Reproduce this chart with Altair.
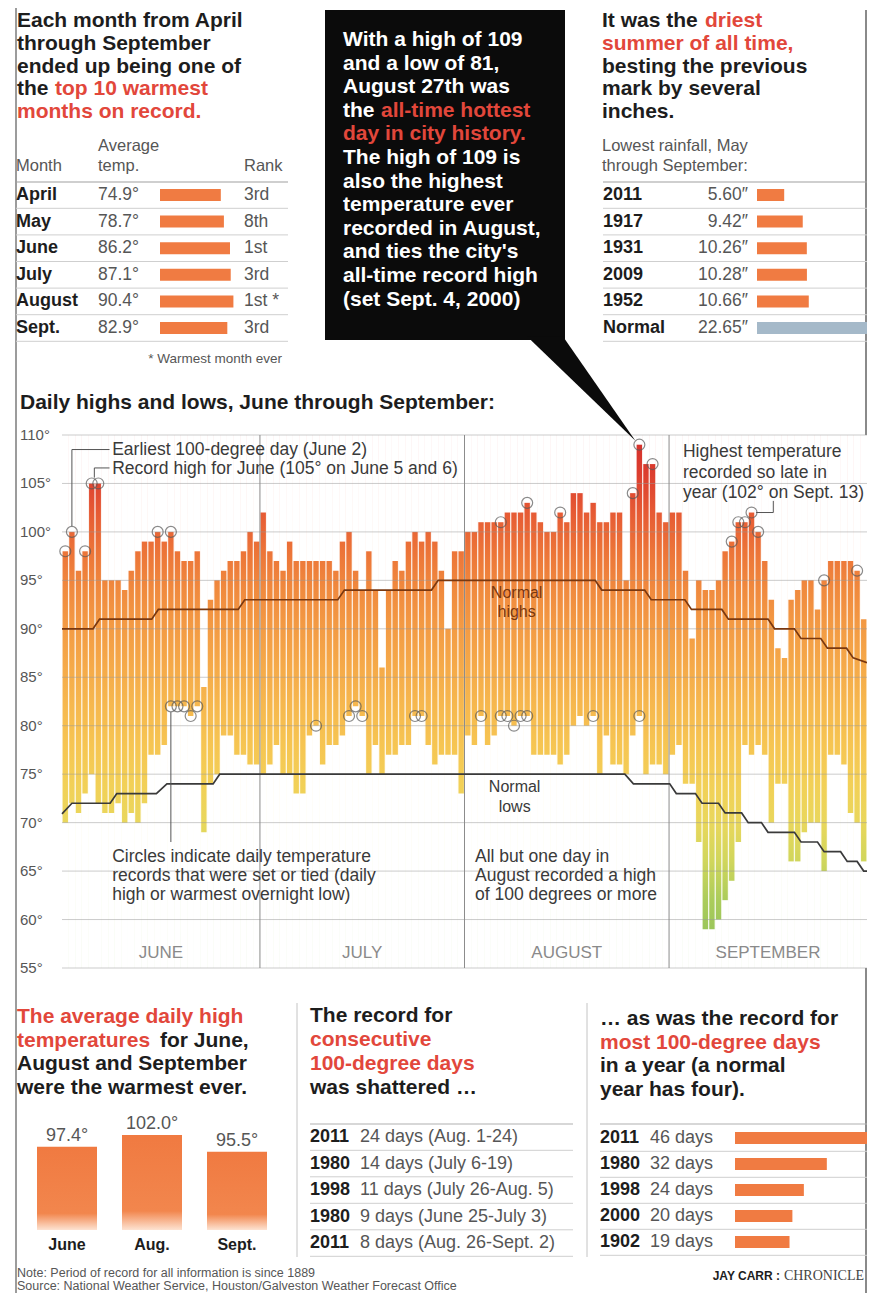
import altair as alt
import pandas as pd

# ------------------------------------------------------------------ values
MONTHS = ["April", "May", "June", "July", "August", "Sept."]
MONTH_AVG_TEMP = [74.9, 78.7, 86.2, 87.1, 90.4, 82.9]
MONTH_RANK = ["3rd", "8th", "1st", "3rd", "1st *", "3rd"]

RAIN_YEARS = ["2011", "1917", "1931", "2009", "1952", "Normal"]
RAIN_INCHES = [5.60, 9.42, 10.26, 10.28, 10.66, 22.65]

HIGH_JUNE = [98, 100, 96, 98, 105, 105, 95, 95, 95, 94, 96, 98, 99, 99, 100,
             99, 100, 98, 97, 97, 98, 84, 93, 95, 96, 97, 97, 98, 100, 99]
HIGH_JULY = [102, 98, 97, 96, 99, 97, 97, 97, 97, 97, 97, 96, 99, 100, 96, 94,
             98, 94, 86, 94, 97, 96, 99, 100, 99, 100, 99, 96, 90, 98, 98]
HIGH_AUG = [100, 100, 101, 101, 101, 101, 102, 102, 102, 103, 102, 101, 100, 100,
            102, 101, 104, 104, 102, 103, 101, 101, 102, 102, 95, 104, 109, 107,
            107, 102, 101]
HIGH_SEPT = [102, 102, 96, 89, 95, 94, 94, 95, 98, 99, 101, 101, 102, 100, 97,
             93, 88, 87, 93, 94, 95, 95, 92, 95, 97, 97, 97, 97, 96, 91]
LOW_JUNE = [70, 72, 71, 73, 75, 72, 71, 71, 72, 70, 71, 70, 72, 77, 77, 78, 82,
            82, 82, 81, 82, 69, 74, 75, 79, 79, 77, 77, 76, 76]
LOW_JULY = [75, 76, 78, 75, 75, 73, 73, 79, 80, 76, 78, 78, 79, 81, 82, 81, 75,
            78, 75, 77, 77, 78, 78, 81, 81, 78, 76, 77, 77, 77, 73]
LOW_AUG = [79, 78, 81, 78, 79, 81, 81, 80, 81, 81, 77, 77, 77, 77, 76, 77, 80,
           81, 80, 81, 75, 79, 76, 76, 75, 79, 81, 75, 76, 76, 75]
LOW_SEPT = [77, 78, 74, 74, 68, 59, 59, 60, 62, 64, 68, 78, 77, 78, 77, 70, 74,
            74, 66, 66, 69, 70, 70, 65, 77, 77, 76, 71, 70, 66]

RECORD_HIGH_DAYS = [0, 1, 3, 4, 5, 14, 16, 66, 70, 75, 86, 87, 89,
                    101, 102, 103, 104, 105, 115, 120]
RECORD_LOW_DAYS = [16, 17, 18, 19, 20, 38, 43, 44, 45, 53, 54, 63,
                   66, 67, 68, 69, 70, 80, 87]

NORMAL_HIGH_DAY = [0, 4.7, 5.7, 13.6, 14.6, 26.7, 27.7, 41.8, 42.8, 56, 57, 80.8,
                   81.8, 88.3, 89.3, 94.4, 95.4, 100, 101, 107, 108, 111, 112,
                   115, 116, 118.9, 119.9, 122]
NORMAL_HIGH_TEMP = [90, 90, 91, 91, 92, 92, 93, 93, 94, 94, 95, 95, 94, 94, 93,
                    93, 92, 92, 91, 91, 90, 90, 89, 89, 88, 88, 87, 86.5]
NORMAL_LOW_DAY = [0, 1.5, 7.3, 8.3, 14.3, 15.9, 22.9, 23.9, 85.3, 86.6, 92.1, 93.1,
                  96, 97, 99.5, 100.5, 103, 104, 106, 107, 111, 112, 114.5, 115.5,
                  118, 119, 120.5, 121.5, 122]
NORMAL_LOW_TEMP = [70.9, 72, 72, 73, 73, 74, 74, 75, 75, 74, 74, 73, 73, 72, 72,
                   71, 71, 70, 70, 69, 69, 68, 68, 67, 67, 66, 66, 65, 65]

CHART_MONTHS = ["JUNE", "JULY", "AUGUST", "SEPTEMBER"]
MONTH_LENGTHS = [30, 31, 31, 30]
Y_TICKS = [110, 105, 100, 95, 90, 85, 80, 75, 70, 65, 60, 55]

AVG_HIGH_MONTHS = ["June", "Aug.", "Sept."]
AVG_HIGH_VALUES = [97.4, 102.0, 95.5]

STREAK_YEARS = ["2011", "1980", "1998", "1980", "2011"]
STREAK_TEXT = ["24 days (Aug. 1-24)", "14 days (July 6-19)",
               "11 days (July 26-Aug. 5)", "9 days (June 25-July 3)",
               "8 days (Aug. 26-Sept. 2)"]

DAYS100_YEARS = ["2011", "1980", "1998", "2000", "1902"]
DAYS100_COUNT = [46, 32, 24, 20, 19]

# ------------------------------------------------------------------ styles
W, H = 859, 1285
OX = OY = 8
SANS = "Liberation Sans"
SERIF = "Liberation Serif"
RED = "#e2473b"
ORANGE = "#f07b42"
BLUEGREY = "#a5b9c9"
INK = "#1d1d1d"
GREY = "#565656"
LIGHT = "#cfcfcf"

IDX = alt.Scale(domain=[0, W], range=[0, W], nice=False, zero=False)
IDY = alt.Scale(domain=[0, H], range=[0, H], nice=False, zero=False)


def para(x, y0, step, spec):
    rows = []
    for i, segments in enumerate(spec):
        for dx, t, c in segments:
            rows.append((x + dx, y0 + i * step, t, c))
    return rows


def texts(rows, size, weight="normal", align="left", font=SANS, style="normal"):
    df = pd.DataFrame(rows, columns=["x", "y", "t", "c"])
    df["x"] = df["x"] - OX
    df["y"] = df["y"] - OY
    return alt.Chart(df).mark_text(
        align=align, baseline="middle", font=font, fontSize=size,
        fontWeight=weight, fontStyle=style
    ).encode(
        x=alt.X("x:Q", scale=IDX, axis=None),
        y=alt.Y("y:Q", scale=IDY, axis=None),
        text=alt.Text("t:N"),
        color=alt.Color("c:N", scale=None),
    )


def segs(rows, color, width):
    df = pd.DataFrame(rows, columns=["x", "y", "x2", "y2"])
    df["x"] = df["x"] - OX
    df["x2"] = df["x2"] - OX
    df["y"] = df["y"] - OY
    df["y2"] = df["y2"] - OY
    return alt.Chart(df).mark_rule(color=color, strokeWidth=width).encode(
        x=alt.X("x:Q", scale=IDX, axis=None), x2="x2:Q",
        y=alt.Y("y:Q", scale=IDY, axis=None), y2="y2:Q")


def box(x0, y0, x1, y1, color):
    df = pd.DataFrame({"x": [x0 - OX], "x2": [x1 - OX], "y": [y0 - OY], "y2": [y1 - OY]})
    return alt.Chart(df).mark_rect(color=color).encode(
        x=alt.X("x:Q", scale=IDX, axis=None), x2="x2:Q",
        y=alt.Y("y:Q", scale=IDY, axis=None), y2="y2:Q")


layers = []

# frame
layers.append(segs([(16, 8, 16, 1300)], "#9c9c9c", 2))
layers.append(segs([(866, 10, 866, 1300)], "#8a8a8a", 2))

# ------------------------------------------------------------------ top left
TL_TITLE = [
    [(0, "Each month from April", INK)],
    [(0, "through September", INK)],
    [(0, "ended up being one of", INK)],
    [(0, "the", INK), (38, "top 10 warmest", RED)],
    [(0, "months on record.", RED)],
]
layers.append(texts(para(17, 21, 22.8, TL_TITLE), 21, "bold"))
layers.append(texts([(98, 146, "Average", GREY), (16, 166, "Month", GREY),
                     (98, 166, "temp.", GREY), (244, 166, "Rank", GREY)], 16.5))
layers.append(segs([(16, 182, 288, 182)], "#a0a0a0", 1.2))

ROW_TL = alt.Scale(domain=[0, len(MONTHS) - 1], range=[195 - OY, 328 - OY], nice=False, zero=False)
df_m = pd.DataFrame({"row": list(range(len(MONTHS))), "month": MONTHS,
                     "temp": MONTH_AVG_TEMP, "rank": MONTH_RANK})
df_m["lab"] = [f"{v:.1f}°" for v in MONTH_AVG_TEMP]
df_m["zero"] = 0.0
TEMP_X = alt.Scale(domain=[0, 100], range=[160 - OX, 160 - OX + 81.2], nice=False, zero=False)
ym = alt.Y("row:Q", scale=ROW_TL, axis=None)
bm = alt.Chart(df_m)
layers += [
    bm.mark_rule(color=LIGHT, strokeWidth=1, yOffset=13.3).encode(
        x=alt.value(16 - OX), x2=alt.value(288 - OX), y=ym),
    bm.mark_rule(color=ORANGE, strokeWidth=12).encode(
        x=alt.X("zero:Q", scale=TEMP_X, axis=None), x2="temp:Q", y=ym),
    bm.mark_text(align="left", baseline="middle", font=SANS, fontSize=18,
                 fontWeight="bold", color=INK).encode(x=alt.value(16 - OX), y=ym, text="month:N"),
    bm.mark_text(align="left", baseline="middle", font=SANS, fontSize=17.5,
                 color=GREY).encode(x=alt.value(98 - OX), y=ym, text="lab:N"),
    bm.mark_text(align="left", baseline="middle", font=SANS, fontSize=17.5,
                 color=GREY).encode(x=alt.value(244 - OX), y=ym, text="rank:N"),
]
layers.append(texts([(282, 359, "* Warmest month ever", GREY)], 13.5, align="right"))

# ------------------------------------------------------------------ callout
layers.append(box(325, 10, 565, 340, "#0b0b0b"))
WH = "#ffffff"
CALLOUT = [
    [(0, "With a high of 109", WH)],
    [(0, "and a low of 81,", WH)],
    [(0, "August 27th was", WH)],
    [(0, "the", WH), (38, "all-time hottest", RED)],
    [(0, "day in city history.", RED)],
    [(0, "The high of 109 is", WH)],
    [(0, "also the highest", WH)],
    [(0, "temperature ever", WH)],
    [(0, "recorded in August,", WH)],
    [(0, "and ties the city's", WH)],
    [(0, "all-time record high", WH)],
    [(0, "(set Sept. 4, 2000)", WH)],
]
layers.append(texts(para(343, 40, 23.6, CALLOUT), 21, "bold"))

# ------------------------------------------------------------------ top right
TR_TITLE = [
    [(0, "It was the", INK), (103, "driest", RED)],
    [(0, "summer of all time,", RED)],
    [(0, "besting the previous", INK)],
    [(0, "mark by several", INK)],
    [(0, "inches.", INK)],
]
layers.append(texts(para(602, 21, 22.8, TR_TITLE), 21, "bold"))
layers.append(texts([(602, 146, "Lowest rainfall, May", GREY),
                     (602, 166, "through September:", GREY)], 16.5))
layers.append(segs([(603, 182, 867, 182)], "#a0a0a0", 1.2))

ROW_TR = alt.Scale(domain=[0, len(RAIN_YEARS) - 1], range=[195 - OY, 328 - OY], nice=False, zero=False)
df_r = pd.DataFrame({"row": list(range(len(RAIN_YEARS))), "year": RAIN_YEARS, "inch": RAIN_INCHES})
df_r["lab"] = [f"{v:.2f}″" for v in RAIN_INCHES]
df_r["zero"] = 0.0
df_r["col"] = [BLUEGREY if y == "Normal" else ORANGE for y in RAIN_YEARS]
RAIN_X = alt.Scale(domain=[0, 22.65], range=[757 - OX, 867 - OX], nice=False, zero=False)
yr = alt.Y("row:Q", scale=ROW_TR, axis=None)
br = alt.Chart(df_r)
layers += [
    br.mark_rule(color=LIGHT, strokeWidth=1, yOffset=13.3).encode(
        x=alt.value(603 - OX), x2=alt.value(867 - OX), y=yr),
    br.mark_rule(strokeWidth=12).encode(
        x=alt.X("zero:Q", scale=RAIN_X, axis=None), x2="inch:Q", y=yr,
        color=alt.Color("col:N", scale=None)),
    br.mark_text(align="left", baseline="middle", font=SANS, fontSize=18,
                 fontWeight="bold", color=INK).encode(x=alt.value(603 - OX), y=yr, text="year:N"),
    br.mark_text(align="right", baseline="middle", font=SANS, fontSize=17.5,
                 color=GREY).encode(x=alt.value(748 - OX), y=yr, text="lab:N"),
]

# ------------------------------------------------------------------ daily chart
layers.append(texts([(20, 403, "Daily highs and lows, June through September:", INK)], 21, "bold"))

XD = alt.Scale(domain=[0, 122], range=[62 - OX, 867 - OX], nice=False, zero=False)
YT = alt.Scale(domain=[55, 110], range=[968 - OY, 435 - OY], nice=False, zero=False)

DAILY_HIGH = HIGH_JUNE + HIGH_JULY + HIGH_AUG + HIGH_SEPT
DAILY_LOW = LOW_JUNE + LOW_JULY + LOW_AUG + LOW_SEPT
n_days = len(DAILY_HIGH)
df_d = pd.DataFrame({"day": list(range(n_days)), "hi": DAILY_HIGH, "lo": DAILY_LOW})
df_d["d1"] = df_d["day"] + 1
df_d["xc"] = df_d["day"] + 0.5
df_d["top"] = 110
df_d["bottom"] = 55

GRAD_T = [110, 106, 102, 98, 94, 90, 86, 82, 78, 74, 70, 66, 62, 58, 55]
GRAD_C = ["#d42f2c", "#dc3e2f", "#e65a34", "#ec7438", "#f08a3e", "#f39b44",
          "#f5aa49", "#f6b84e", "#f6c552", "#f2d057", "#e9d75c", "#d0d65c",
          "#abcc5b", "#96c45a", "#8ec05a"]
temp_grad = alt.LinearGradient(
    gradient="linear", x1=0, x2=0, y1=0, y2=1,
    stops=[alt.GradientStop(color=c, offset=(110 - t) / 55) for t, c in zip(GRAD_T, GRAD_C)])

df_bg = pd.DataFrame({"x0": [0], "x1": [n_days], "y0": [55], "y1": [110]})
layers.append(alt.Chart(df_bg).mark_rect(color=temp_grad).encode(
    x=alt.X("x0:Q", scale=XD, axis=None), x2="x1:Q",
    y=alt.Y("y0:Q", scale=YT, axis=None), y2="y1:Q"))

bd = alt.Chart(df_d)
xday = alt.X("day:Q", scale=XD, axis=None)
layers.append(bd.mark_rect(color="white").encode(
    x=xday, x2="d1:Q", y=alt.Y("hi:Q", scale=YT, axis=None), y2="top:Q"))
layers.append(bd.mark_rect(color="white").encode(
    x=xday, x2="d1:Q", y=alt.Y("lo:Q", scale=YT, axis=None), y2="bottom:Q"))

df_sep = pd.DataFrame({"d": list(range(n_days + 1))})
df_sep["y0"] = 55
df_sep["y1"] = 110
layers.append(alt.Chart(df_sep).mark_rule(color="white", strokeWidth=1.3, opacity=0.85).encode(
    x=alt.X("d:Q", scale=XD, axis=None), y=alt.Y("y0:Q", scale=YT, axis=None), y2="y1:Q"))

df_grid = pd.DataFrame({"t": Y_TICKS})
df_grid["x0"] = 0
df_grid["x1"] = n_days
df_grid["lab"] = [f"{t}°" for t in Y_TICKS]
layers.append(alt.Chart(df_grid).mark_rule(color="#9a9a9a", strokeWidth=1, opacity=0.5).encode(
    x=alt.X("x0:Q", scale=XD, axis=None), x2="x1:Q", y=alt.Y("t:Q", scale=YT, axis=None)))

starts = [sum(MONTH_LENGTHS[:i]) for i in range(len(MONTH_LENGTHS))]
df_ms = pd.DataFrame({"d": starts[1:]})
df_ms["y0"] = 55
df_ms["y1"] = 110
layers.append(alt.Chart(df_ms).mark_rule(color="#8c8c8c", strokeWidth=1).encode(
    x=alt.X("d:Q", scale=XD, axis=None), y=alt.Y("y0:Q", scale=YT, axis=None), y2="y1:Q"))

df_nh = pd.DataFrame({"day": NORMAL_HIGH_DAY, "t": NORMAL_HIGH_TEMP})
df_nl = pd.DataFrame({"day": NORMAL_LOW_DAY, "t": NORMAL_LOW_TEMP})
layers.append(alt.Chart(df_nh).mark_line(color="#7a3810", strokeWidth=1.7).encode(
    x=alt.X("day:Q", scale=XD, axis=None), y=alt.Y("t:Q", scale=YT, axis=None)))
layers.append(alt.Chart(df_nl).mark_line(color="#3a3a3a", strokeWidth=1.7).encode(
    x=alt.X("day:Q", scale=XD, axis=None), y=alt.Y("t:Q", scale=YT, axis=None)))

df_rh = df_d[df_d["day"].isin(RECORD_HIGH_DAYS)]
df_rl = df_d[df_d["day"].isin(RECORD_LOW_DAYS)]
layers.append(alt.Chart(df_rh).mark_point(shape="circle", filled=False, size=120,
                                          color="#5a5a5a", strokeWidth=1.2).encode(
    x=alt.X("xc:Q", scale=XD, axis=None), y=alt.Y("hi:Q", scale=YT, axis=None)))
layers.append(alt.Chart(df_rl).mark_point(shape="circle", filled=False, size=120,
                                          color="#5a5a5a", strokeWidth=1.2).encode(
    x=alt.X("xc:Q", scale=XD, axis=None), y=alt.Y("lo:Q", scale=YT, axis=None)))

# callout pointer (in chart units so it lands on the Aug. 27 circle)
df_w = pd.DataFrame({"T": [120.2, 109.4], "x": [70.45, 86.9], "x2": [75.9, 86.9]})
layers.append(alt.Chart(df_w).mark_area(orient="horizontal", color="#0b0b0b").encode(
    y=alt.Y("T:Q", scale=YT, axis=None), x=alt.X("x:Q", scale=XD, axis=None), x2="x2:Q"))


def dtexts(rows, size, color, align="left", weight="normal", style="normal"):
    df = pd.DataFrame(rows, columns=["d", "T", "t"])
    return alt.Chart(df).mark_text(align=align, baseline="middle", font=SANS, fontSize=size,
                                   color=color, fontWeight=weight, fontStyle=style).encode(
        x=alt.X("d:Q", scale=XD, axis=None), y=alt.Y("T:Q", scale=YT, axis=None), text="t:N")


def dsegs(rows, color, width):
    df = pd.DataFrame(rows, columns=["d", "T", "d2", "T2"])
    return alt.Chart(df).mark_rule(color=color, strokeWidth=width).encode(
        x=alt.X("d:Q", scale=XD, axis=None), x2="d2:Q",
        y=alt.Y("T:Q", scale=YT, axis=None), y2="T2:Q")


layers.append(dsegs([(1.5, 100.6, 1.5, 108.5), (1.5, 108.5, 7.2, 108.5),
                     (4.9, 105.6, 4.9, 106.6), (4.9, 106.6, 7.2, 106.6),
                     (16.5, 81.4, 16.5, 68.0),
                     (105.2, 102.0, 107.8, 102.0), (107.8, 102.0, 107.8, 103.2)],
                    "#555555", 1))
ANN = "#3a3a3a"
layers.append(dtexts([(7.6, 108.5, "Earliest 100-degree day (June 2)"),
                      (7.6, 106.5, "Record high for June (105° on June 5 and 6)"),
                      (94.1, 108.25, "Highest temperature"),
                      (94.1, 106.1, "recorded so late in"),
                      (94.1, 104.0, "year (102° on Sept. 13)"),
                      (7.6, 66.45, "Circles indicate daily temperature"),
                      (7.6, 64.5, "records that were set or tied (daily"),
                      (7.6, 62.5, "high or warmest overnight low)"),
                      (62.6, 66.45, "All but one day in"),
                      (62.6, 64.5, "August recorded a high"),
                      (62.6, 62.5, "of 100 degrees or more")], 17.5, ANN))
layers.append(dtexts([(68.9, 93.7, "Normal"), (68.9, 91.7, "highs")], 16, "#7a3810", align="center"))
layers.append(dtexts([(68.6, 73.7, "Normal"), (68.6, 71.6, "lows")], 16, "#3a3a3a", align="center"))

layers.append(alt.Chart(df_grid).mark_text(align="left", baseline="middle", font=SANS,
                                           fontSize=15, color=GREY).encode(
    x=alt.value(20 - OX), y=alt.Y("t:Q", scale=YT, axis=None), text="lab:N"))

df_ml = pd.DataFrame({"m": CHART_MONTHS,
                      "c": [s + L / 2 for s, L in zip(starts, MONTH_LENGTHS)]})
layers.append(alt.Chart(df_ml).mark_text(align="center", baseline="middle", font=SANS,
                                         fontSize=17, color="#8a8a8a").encode(
    x=alt.X("c:Q", scale=XD, axis=None), y=alt.value(953 - OY), text="m:N"))

# ------------------------------------------------------------------ bottom row
layers.append(segs([(297, 1003, 297, 1257), (587, 1003, 587, 1257)], "#c4c4c4", 1))

BL_TITLE = [
    [(0, "The average daily high", RED)],
    [(0, "temperatures", RED), (143, "for June,", INK)],
    [(0, "August and September", INK)],
    [(0, "were the warmest ever.", INK)],
]
layers.append(texts(para(17, 1017, 23.7, BL_TITLE), 21, "bold"))

df_ah = pd.DataFrame({"m": AVG_HIGH_MONTHS, "v": AVG_HIGH_VALUES})
df_ah["base"] = 65
df_ah["lab"] = [f"{v:.1f}°" for v in AVG_HIGH_VALUES]
XB = alt.Scale(type="band", domain=AVG_HIGH_MONTHS, range=[37 - OX, 267 - OX],
               paddingInner=25 / 85, paddingOuter=0)
YB = alt.Scale(domain=[65, 102], range=[1230 - OY, 1135 - OY], nice=False, zero=False)
bar_grad = alt.LinearGradient(
    gradient="linear", x1=0, x2=0, y1=0, y2=1,
    stops=[alt.GradientStop(color="#f07a41", offset=0),
           alt.GradientStop(color="#f2864d", offset=0.8),
           alt.GradientStop(color="#fde3d2", offset=1)])
bah = alt.Chart(df_ah)
layers.append(bah.mark_bar(color=bar_grad).encode(
    x=alt.X("m:N", scale=XB, axis=None), y=alt.Y("v:Q", scale=YB, axis=None), y2="base:Q"))
layers.append(bah.mark_text(baseline="middle", align="center", dy=-11, font=SANS,
                            fontSize=18, color=GREY).encode(
    x=alt.X("m:N", scale=XB, axis=None), y=alt.Y("v:Q", scale=YB, axis=None), text="lab:N"))
layers.append(bah.mark_text(baseline="middle", align="center", font=SANS, fontSize=16,
                            fontWeight="bold", color=INK).encode(
    x=alt.X("m:N", scale=XB, axis=None), y=alt.value(1245 - OY), text="m:N"))

BM_TITLE = [
    [(0, "The record for", INK)],
    [(0, "consecutive", RED)],
    [(0, "100-degree days", RED)],
    [(0, "was shattered …", INK)],
]
layers.append(texts(para(310, 1016, 24, BM_TITLE), 21, "bold"))
layers.append(segs([(310, 1124, 573, 1124)], "#b0b0b0", 1.2))
ROW_BM = alt.Scale(domain=[0, len(STREAK_YEARS) - 1], range=[1137 - OY, 1243 - OY], nice=False, zero=False)
df_s = pd.DataFrame({"row": list(range(len(STREAK_YEARS))), "year": STREAK_YEARS, "txt": STREAK_TEXT})
ys = alt.Y("row:Q", scale=ROW_BM, axis=None)
bs = alt.Chart(df_s)
layers += [
    bs.mark_rule(color=LIGHT, strokeWidth=1, yOffset=13.3).encode(
        x=alt.value(310 - OX), x2=alt.value(573 - OX), y=ys),
    bs.mark_text(align="left", baseline="middle", font=SANS, fontSize=18,
                 fontWeight="bold", color=INK).encode(x=alt.value(310 - OX), y=ys, text="year:N"),
    bs.mark_text(align="left", baseline="middle", font=SANS, fontSize=18,
                 color=GREY).encode(x=alt.value(360 - OX), y=ys, text="txt:N"),
]

BR_TITLE = [
    [(0, "… as was the record for", INK)],
    [(0, "most 100-degree days", RED)],
    [(0, "in a year (a normal", INK)],
    [(0, "year has four).", INK)],
]
layers.append(texts(para(600, 1019, 23.7, BR_TITLE), 21, "bold"))
layers.append(segs([(600, 1124, 867, 1124)], "#b0b0b0", 1.2))
ROW_BR = alt.Scale(domain=[0, len(DAYS100_YEARS) - 1], range=[1138 - OY, 1242 - OY], nice=False, zero=False)
df_c = pd.DataFrame({"row": list(range(len(DAYS100_YEARS))), "year": DAYS100_YEARS, "n": DAYS100_COUNT})
df_c["lab"] = [f"{n} days" for n in DAYS100_COUNT]
df_c["zero"] = 0
DAYS_X = alt.Scale(domain=[0, 46], range=[735 - OX, 867 - OX], nice=False, zero=False)
yc = alt.Y("row:Q", scale=ROW_BR, axis=None)
bc = alt.Chart(df_c)
layers += [
    bc.mark_rule(color=LIGHT, strokeWidth=1, yOffset=13.3).encode(
        x=alt.value(600 - OX), x2=alt.value(867 - OX), y=yc),
    bc.mark_rule(color=ORANGE, strokeWidth=12).encode(
        x=alt.X("zero:Q", scale=DAYS_X, axis=None), x2="n:Q", y=yc),
    bc.mark_text(align="left", baseline="middle", font=SANS, fontSize=18,
                 fontWeight="bold", color=INK).encode(x=alt.value(600 - OX), y=yc, text="year:N"),
    bc.mark_text(align="left", baseline="middle", font=SANS, fontSize=18,
                 color=GREY).encode(x=alt.value(650 - OX), y=yc, text="lab:N"),
]

# ------------------------------------------------------------------ footer
layers.append(texts([(17, 1273, "Note: Period of record for all information is since 1889", GREY),
                     (17, 1286, "Source: National Weather Service, Houston/Galveston Weather Forecast Office", GREY)],
                    12.5))
layers.append(texts([(780, 1276, "JAY CARR :", INK)], 12, "bold", align="right"))
layers.append(texts([(864, 1276, "CHRONICLE", "#444444")], 14, align="right", font=SERIF))

chart = alt.layer(*layers).resolve_scale(
    x="independent", y="independent"
).properties(
    width=W, height=H, padding=0, background="white",
    autosize=alt.AutoSizeParams(type="none"),
).configure_view(stroke=None)

chart.save("out.html", embed_options={"renderer": "svg", "actions": False})
